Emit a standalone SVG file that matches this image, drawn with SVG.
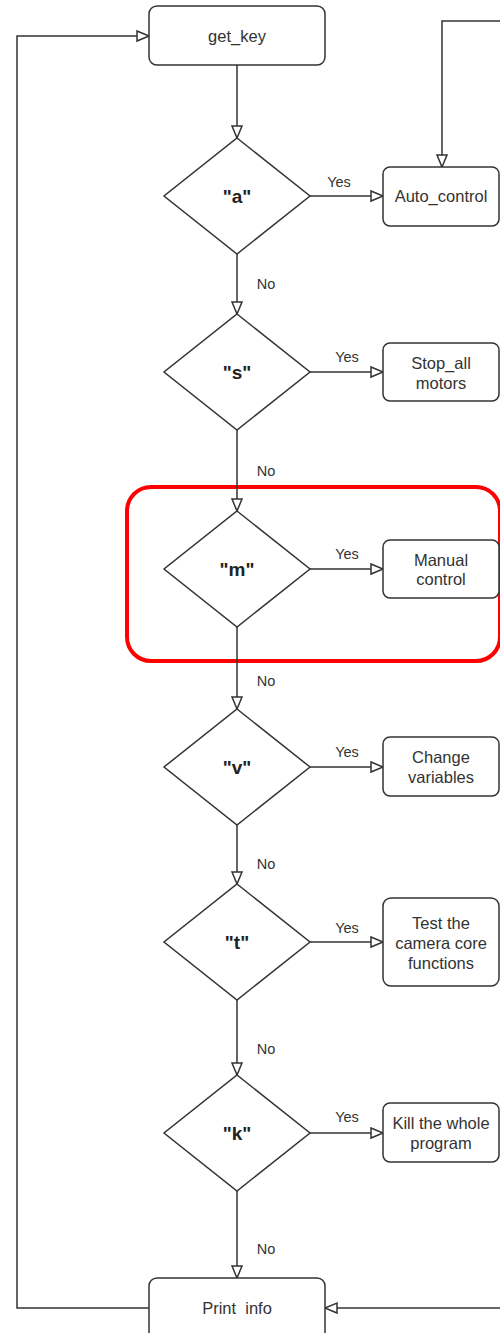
<svg xmlns="http://www.w3.org/2000/svg" width="500" height="1333" viewBox="0 0 500 1333">
  <style>
    .box { fill: #ffffff; stroke: #333333; stroke-width: 1.5; }
    .dia { fill: #ffffff; stroke: #333333; stroke-width: 1.5; }
    .edge { fill: none; stroke: #333333; stroke-width: 1.5; }
    .lbl { font-family: "Liberation Sans", Arial, sans-serif; font-size: 16.5px; fill: #333333; text-anchor: middle; dominant-baseline: central; }
    .key { font-family: "Liberation Sans", Arial, sans-serif; font-size: 19px; font-weight: bold; fill: #222222; text-anchor: middle; dominant-baseline: central; }
    .yn { font-family: "Liberation Sans", Arial, sans-serif; font-size: 14.5px; fill: #333333; text-anchor: middle; dominant-baseline: central; }
    .hl { fill: none; stroke: #ff0000; stroke-width: 4; }
  </style>
  <defs>
    <marker id="open" markerUnits="userSpaceOnUse" markerWidth="16" markerHeight="14" refX="13" refY="6" orient="auto">
      <path d="M1,1 L13,6 L1,11 Z" fill="#ffffff" stroke="#333333" stroke-width="1.5"/>
    </marker>
  </defs>
  <rect width="500" height="1333" fill="#ffffff"/>

  <!-- highlight around the manual-control branch -->
  <rect class="hl" x="127" y="487" width="373" height="174" rx="24"/>

  <g id="connectors">
    <!-- main chain -->
    <path class="edge" d="M237,65 V138" marker-end="url(#open)"/>
    <path class="edge" d="M237,254 V314" marker-end="url(#open)"/>
    <path class="edge" d="M237,430 V511" marker-end="url(#open)"/>
    <path class="edge" d="M237,627 V709" marker-end="url(#open)"/>
    <path class="edge" d="M237,825 V884" marker-end="url(#open)"/>
    <path class="edge" d="M237,1000 V1075" marker-end="url(#open)"/>
    <path class="edge" d="M237,1191 V1278" marker-end="url(#open)"/>
    <!-- yes branches -->
    <path class="edge" d="M310,196 H383" marker-end="url(#open)"/>
    <path class="edge" d="M310,372 H383" marker-end="url(#open)"/>
    <path class="edge" d="M310,569 H383" marker-end="url(#open)"/>
    <path class="edge" d="M310,767 H383" marker-end="url(#open)"/>
    <path class="edge" d="M310,942 H383" marker-end="url(#open)"/>
    <path class="edge" d="M310,1133 H383" marker-end="url(#open)"/>
    <!-- return into Auto_control and Print info -->
    <path class="edge" d="M501,21 H442 V167" marker-end="url(#open)"/>
    <path class="edge" d="M501,1308 H325" marker-end="url(#open)"/>
    <!-- loop back to get_key -->
    <path class="edge" d="M149,1308 H17 V36 H149" marker-end="url(#open)"/>

    <text class="yn" x="339" y="182">Yes</text>
    <text class="yn" x="347" y="357">Yes</text>
    <text class="yn" x="347" y="554">Yes</text>
    <text class="yn" x="347" y="752">Yes</text>
    <text class="yn" x="347" y="928">Yes</text>
    <text class="yn" x="347" y="1117">Yes</text>

    <text class="yn" x="266" y="284">No</text>
    <text class="yn" x="266" y="471">No</text>
    <text class="yn" x="266" y="681">No</text>
    <text class="yn" x="266" y="864">No</text>
    <text class="yn" x="266" y="1049">No</text>
    <text class="yn" x="266" y="1249">No</text>
  </g>

  <g id="get_key">
    <rect class="box" x="149" y="6" width="176" height="59" rx="8"/>
    <text class="lbl" x="237" y="36">get_key</text>
  </g>

  <g id="dec_a">
    <path class="dia" d="M237,138 L310,196 L237,254 L164,196 Z"/>
    <text class="key" x="237" y="196">"a"</text>
  </g>
  <g id="auto_control">
    <rect class="box" x="383" y="167" width="116" height="59" rx="7"/>
    <text class="lbl" x="441" y="196">Auto_control</text>
  </g>

  <g id="dec_s">
    <path class="dia" d="M237,314 L310,372 L237,430 L164,372 Z"/>
    <text class="key" x="237" y="372">"s"</text>
  </g>
  <g id="stop_all">
    <rect class="box" x="383" y="343" width="116" height="58" rx="7"/>
    <text class="lbl" x="441" y="363">Stop_all</text>
    <text class="lbl" x="441" y="383">motors</text>
  </g>

  <g id="dec_m">
    <path class="dia" d="M237,511 L310,569 L237,627 L164,569 Z"/>
    <text class="key" x="237" y="569">"m"</text>
  </g>
  <g id="manual_control">
    <rect class="box" x="383" y="540" width="116" height="58" rx="7"/>
    <text class="lbl" x="441" y="560">Manual</text>
    <text class="lbl" x="441" y="579">control</text>
  </g>

  <g id="dec_v">
    <path class="dia" d="M237,709 L310,767 L237,825 L164,767 Z"/>
    <text class="key" x="237" y="767">"v"</text>
  </g>
  <g id="change_variables">
    <rect class="box" x="383" y="737" width="116" height="59" rx="7"/>
    <text class="lbl" x="441" y="757">Change</text>
    <text class="lbl" x="441" y="777">variables</text>
  </g>

  <g id="dec_t">
    <path class="dia" d="M237,884 L310,942 L237,1000 L164,942 Z"/>
    <text class="key" x="237" y="942">"t"</text>
  </g>
  <g id="camera_test">
    <rect class="box" x="383" y="898" width="116" height="88" rx="8"/>
    <text class="lbl" x="441" y="923">Test the</text>
    <text class="lbl" x="441" y="943">camera core</text>
    <text class="lbl" x="441" y="963">functions</text>
  </g>

  <g id="dec_k">
    <path class="dia" d="M237,1075 L310,1133 L237,1191 L164,1133 Z"/>
    <text class="key" x="237" y="1133">"k"</text>
  </g>
  <g id="kill_program">
    <rect class="box" x="383" y="1103" width="116" height="59" rx="7"/>
    <text class="lbl" x="441" y="1123">Kill the whole</text>
    <text class="lbl" x="441" y="1143">program</text>
  </g>

  <g id="print_info">
    <rect class="box" x="149" y="1278" width="176" height="62" rx="8"/>
    <text class="lbl" x="237" y="1308" xml:space="preserve" style="white-space:pre">Print  info</text>
  </g>
</svg>
